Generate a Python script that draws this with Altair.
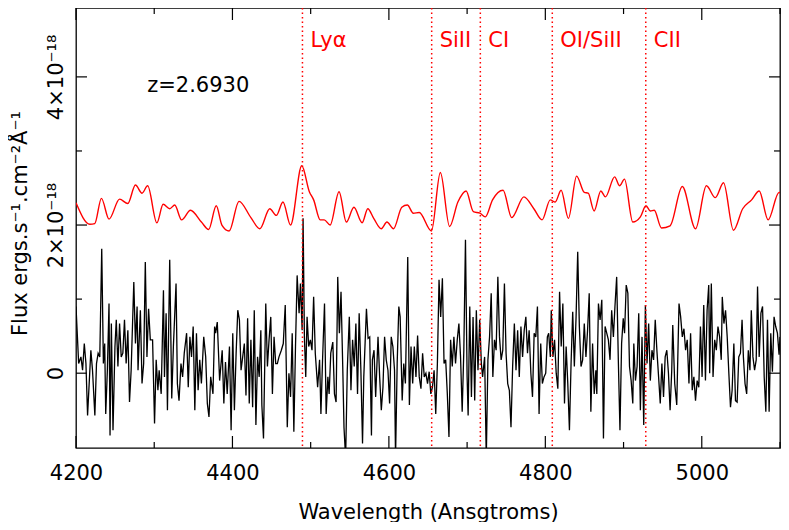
import altair as alt
import pandas as pd

# ---------------- data (flux in units of 1e-18 erg/s/cm2/A) ----------------
black_wl = [
    4200.0, 4203.4, 4206.3, 4208.4, 4210.6, 4212.7, 4214.8, 4219.0, 4221.1, 4224.1,
    4226.2, 4228.3, 4230.4, 4232.9, 4235.0, 4236.7, 4238.0, 4240.1, 4242.2, 4243.5,
    4245.2, 4247.3, 4249.8, 4251.5, 4253.6, 4255.7, 4257.8, 4259.9, 4262.0, 4264.1,
    4266.3, 4268.4, 4270.5, 4273.9, 4276.0, 4278.1, 4279.3, 4282.3, 4284.4, 4286.5,
    4288.6, 4290.7, 4292.8, 4295.0, 4297.9, 4300.4, 4302.5, 4304.7, 4306.3, 4308.9,
    4311.8, 4313.1, 4315.2, 4316.9, 4319.8, 4322.4, 4324.5, 4327.9, 4329.6, 4331.7,
    4334.2, 4336.3, 4338.4, 4341.4, 4343.5, 4345.6, 4347.7, 4349.8,
    4351.9, 4354.0, 4356.1, 4358.2, 4360.3, 4363.3, 4365.8, 4367.9, 4370.0, 4372.2,
    4375.1, 4377.2, 4378.5, 4380.6, 4383.6, 4386.9, 4389.0, 4391.1, 4393.3, 4396.2,
    4398.3, 4400.4, 4402.5, 4404.7, 4406.8, 4408.9, 4411.0, 4413.1, 4415.2, 4417.3,
    4419.4, 4421.5, 4423.6, 4425.8, 4427.9, 4430.0, 4432.1, 4434.2, 4436.3, 4437.6,
    4439.7, 4442.6, 4444.7, 4446.8, 4449.0, 4451.1, 4453.2, 4455.3, 4457.4, 4459.5,
    4462.5, 4465.0, 4467.5, 4470.1, 4472.2, 4474.3, 4476.4, 4478.5, 4480.6, 4482.7,
    4485.2, 4486.9, 4489.1, 4490.3, 4492.0, 4493.7, 4495.4, 4497.5, 4499.6, 4501.7,
    4503.8, 4505.9, 4508.9, 4511.4, 4513.1, 4515.2, 4517.7, 4519.8, 4522.0, 4523.6,
    4525.7, 4528.3, 4530.4, 4532.5, 4534.6, 4536.7, 4538.8, 4541.0, 4542.6, 4544.7,
    4546.8, 4549.4, 4551.5, 4553.6, 4555.7, 4557.8, 4559.9, 4562.0, 4564.2, 4566.3,
    4567.9, 4571.3, 4573.4, 4575.5, 4577.7, 4578.9, 4581.0, 4583.1, 4586.1, 4588.2,
    4590.3, 4592.4, 4594.5, 4596.6, 4598.8, 4600.9, 4603.0, 4605.1, 4607.2, 4608.5,
    4610.6, 4612.7, 4614.4, 4617.0, 4619.0, 4621.1, 4624.1, 4626.2, 4628.3, 4630.4,
    4632.5, 4634.6, 4636.7, 4638.8, 4641.0, 4643.1, 4645.2, 4647.3, 4649.4, 4651.5,
    4653.6,
    4655.7, 4657.8, 4659.9, 4662.0, 4664.1, 4666.2, 4668.4, 4670.5, 4672.6, 4674.7,
    4676.8, 4678.9, 4681.0, 4683.1, 4685.2, 4687.4, 4689.5, 4691.6, 4693.7, 4695.8,
    4697.9, 4700.0, 4701.3, 4703.4, 4705.5, 4707.6, 4709.7, 4711.8, 4713.9, 4716.1,
    4718.2, 4719.8, 4722.4, 4724.5, 4726.6, 4728.7, 4730.8, 4732.9, 4735.0, 4737.1,
    4739.3, 4741.4, 4743.5, 4745.6, 4747.7, 4749.8, 4751.9, 4754.0, 4756.1, 4758.2,
    4760.4, 4762.5, 4764.6, 4766.7, 4768.8, 4770.9, 4773.0, 4775.1, 4777.2, 4779.3,
    4781.5, 4783.6, 4785.7, 4787.8, 4789.9, 4792.0, 4794.1, 4796.2, 4798.3, 4800.5,
    4802.6, 4804.3, 4806.4,
    4807.6, 4809.7, 4811.8, 4813.9, 4816.0, 4818.2, 4820.3, 4822.4, 4824.5, 4826.6,
    4828.7, 4830.8, 4832.9, 4835.0, 4837.1, 4839.3, 4841.4, 4843.5, 4845.6, 4847.7,
    4849.8, 4851.9, 4854.0, 4856.1, 4858.2, 4860.4, 4862.5, 4864.6, 4865.8, 4867.9,
    4870.0, 4872.2, 4874.3, 4876.4, 4878.5, 4880.6, 4882.7, 4884.8, 4887.0, 4889.0,
    4891.2, 4893.3, 4895.4, 4897.5, 4899.6, 4901.3, 4903.4, 4905.5, 4907.6, 4909.7,
    4911.8, 4913.1, 4915.2, 4917.3, 4919.4, 4921.5, 4923.6, 4925.8, 4927.9, 4930.0,
    4932.1, 4934.2, 4936.3, 4938.4, 4940.5, 4942.6, 4944.8, 4946.9, 4949.0, 4951.1,
    4953.2, 4955.3, 4957.4,
    4959.5, 4961.6, 4962.9, 4965.4, 4968.0, 4970.9, 4973.0, 4975.1, 4977.2, 4979.3,
    4981.4, 4983.6, 4985.7, 4987.8, 4989.9, 4992.0, 4994.1, 4996.2, 4998.3, 5000.4,
    5002.5, 5004.7, 5006.8, 5008.9, 5010.1, 5012.2, 5014.4, 5016.5, 5018.6, 5020.7,
    5022.8, 5024.9, 5026.2, 5028.3, 5030.4, 5032.5, 5034.6, 5036.7, 5038.8, 5041.0,
    5043.1, 5045.2, 5047.3, 5049.4, 5051.5, 5053.2, 5055.3, 5057.4, 5059.5, 5061.6,
    5063.3, 5065.4, 5067.5, 5069.6, 5071.3, 5073.4, 5075.6, 5077.7, 5079.8, 5081.9,
    5084.0, 5086.1, 5088.2, 5090.3, 5092.4, 5094.5, 5096.7, 5098.8, 5100.0,
]
black_flux = [
    0.90, 0.13, 0.22, 0.04, 0.40, 0.13, -0.57, 0.31, 0.04, -0.57,
    0.13, 0.27, 0.22, 1.68, 0.13, 0.40, -0.55, 0.04, 0.94, -0.84,
    0.67, -0.77, 0.36, 0.72, 0.09, 0.67, 0.22, 0.27, 0.72, 0.13,
    0.58, -0.39, 0.04, 1.23, 0.40, 0.90, 0.04, 0.85, -0.14, 0.13,
    1.50, 0.22, 0.87, 0.45, 0.45, -0.68, 0.18, -0.23, 0.04, -0.28,
    1.12, -0.05, 0.81, -0.50, 1.53, -0.34, 0.36, 1.21, -0.14, -0.37,
    0.13, -0.05, 0.27, 0.54, -0.19, 0.49, 0.22, 0.63,
    -0.50, 0.54, -0.23, 0.18, -0.14, 0.49, 0.22, -0.41, -0.59, -0.05,
    -0.28, 0.63, 0.54, 0.69, -0.10, 0.31, -0.41, 0.15, -0.28, 0.36,
    -0.77, 0.54, -0.50, 0.27, 0.85, 0.72, 0.04, 0.22, 0.40, -0.30,
    0.74, -0.41, 0.45, -0.46, 0.85, -0.70, 0.22, -0.05, 0.58, -0.43,
    -0.88, 0.94, 0.09, 0.45, 0.76, -0.28, 0.49, 0.13, 0.13, 0.22,
    0.31, 0.40, 0.92, -0.73, 0.00, -0.32, 0.54, -0.79, 0.36, 1.32,
    0.81, 1.21, 0.58, 2.09, 0.49, -0.05, 0.76, 0.36, 0.45, 0.31,
    1.03, 0.27, -0.19, 0.18, -0.55, 0.18, 0.94, -0.55, -0.05, -0.28,
    0.27, 0.42, -0.28, -0.39, 1.30, 0.54, 1.10, 0.09, -0.73, -1.15,
    0.04, 0.76, -0.23, 0.45, 0.09, 0.67, -0.28, 0.81, 0.04, -0.95,
    -0.05, 0.87, 0.47, 0.49, -0.84, 0.18, 0.31, -0.32, 0.49, -0.05,
    -0.50, -0.19, 0.49, 0.18, 0.04, -0.41, 0.49, 0.36, 0.04, -1.15,
    0.13, 0.90, 0.76, -0.37, 0.13, -0.14, 1.57, -0.43, 0.36, -0.14,
    0.36, -0.05, 0.51, -0.05, -0.21, 0.27, -0.05, 0.00, -0.14, 0.02,
    -0.28,
    -0.19, 0.04, -0.55, 0.13, 1.26, 0.76, 1.28, 0.13, 0.18, -0.28,
    -0.86, 0.45, 0.09, 0.49, 0.13, 0.45, 0.67, 0.22, -0.52, 0.31,
    1.80, -0.05, -0.57, 0.90, -0.32, 0.76, -0.37, 0.85, 0.04, 0.72,
    0.13, -0.05, 0.22, -1.15, 0.18, 0.49, 1.08, -0.05, 0.45, 0.31,
    1.30, 0.49, 0.18, 0.31, 1.21, 0.27, -0.14, -0.23, -0.73, 0.09,
    0.67, 0.04, 0.58, -0.05, 0.63, 0.22, 0.58, 0.76, 0.27, 0.58,
    0.00, -0.32, 0.54, 0.49, 0.90, -0.55, 0.40, -0.14, -0.05, 0.00,
    0.49, 0.54, 0.22,
    0.85, 0.22, 0.45, 0.00, -0.21, 1.10, 0.36, 0.94, -0.41, 0.36,
    -0.14, -0.77, 0.13, 0.83, 0.09, 0.76, 1.64, 0.63, 0.09, 0.18,
    0.67, 0.22, 0.58, 1.08, -0.52, 0.40, -0.28, 0.04, -0.28, 0.94,
    0.72, 0.99, -0.88, 0.63, 0.54, 0.45, 0.18, 0.85, 0.49, 0.90,
    1.30, 0.18, -0.77, 0.40, 0.74, 0.54, 1.19, 1.08, 0.09, -0.10,
    -0.41, 0.40, -0.10, 0.09, 0.81, -0.50, 0.49, -0.70, 0.92, 0.13,
    0.67, -0.10, 0.31, 0.18, 0.72, 0.31, -0.05, -0.41, 0.13, -0.32,
    0.22, 0.31, 0.00,
    -0.50, 0.04, 0.65, -0.14, -0.43, 0.94, 0.76, 0.49, 0.60, 0.31,
    0.45, -0.14, 0.54, -0.23, -0.05, -0.37, -0.10, -0.19, 0.63, -0.05,
    0.92, -0.10, 0.85, 1.19, 0.00, 1.21, -0.05, 0.45, 0.31, 0.63,
    0.49, 0.18, 1.03, 0.67, 0.85, 0.49, 0.00, -0.46, -0.23, 0.40,
    -0.37, -0.39, 0.22, 0.27, 0.72, 0.22, -0.14, -0.28, 0.31, 0.04,
    0.85, 0.22, 0.04, 0.18, 1.17, 0.22, 0.81, 0.90, -0.05, -0.52,
    0.72, -0.52, 0.54, 0.02, 0.76, 0.63, 0.54, 0.25, 0.49,
]
smooth_wl = [
    4200.0, 4217.7, 4224.0, 4232.5, 4242.2, 4255.7, 4266.2, 4276.0, 4284.4, 4291.6,
    4303.4, 4311.4, 4319.8, 4326.2, 4335.0, 4346.4, 4360.3, 4369.6, 4379.3, 4386.5,
    4395.8, 4408.4, 4423.6, 4435.0, 4447.7, 4456.1, 4464.6, 4474.3, 4488.6, 4498.3,
    4503.8, 4512.2, 4517.3, 4524.9, 4536.3, 4545.6, 4555.3, 4565.8, 4573.0, 4580.6,
    4590.3, 4597.5, 4605.9, 4616.5, 4623.6, 4631.2, 4638.8, 4654.4, 4665.8, 4677.6,
    4688.2, 4698.7, 4708.0, 4716.5, 4723.2, 4732.5, 4746.0, 4757.0, 4772.6, 4785.3,
    4795.8, 4806.3, 4812.6, 4820.2, 4829.5, 4840.0, 4849.8, 4854.8, 4862.4, 4870.9,
    4876.8, 4888.6, 4894.9, 4901.2, 4911.8, 4921.5, 4928.7, 4934.2, 4939.2, 4948.5,
    4959.5, 4975.1, 4992.0, 5005.9, 5017.3, 5027.8, 5040.5, 5052.3, 5063.7, 5073.4,
    5084.8, 5098.7, 5100.0,
]
smooth_flux = [
    2.30, 2.01, 2.02, 2.36, 2.08, 2.35, 2.29, 2.54, 2.43, 2.53,
    2.03, 2.28, 2.22, 2.27, 2.07, 2.20, 2.04, 1.94, 2.26, 2.00,
    1.92, 2.32, 2.10, 1.95, 2.22, 2.13, 2.31, 2.00, 2.80, 2.45,
    2.34, 2.07, 2.07, 2.00, 2.45, 2.04, 2.24, 2.03, 2.22, 2.09,
    1.95, 2.04, 1.95, 2.24, 2.27, 2.16, 2.17, 1.92, 2.71, 1.98,
    2.31, 2.46, 2.18, 2.16, 2.11, 2.34, 2.47, 2.10, 2.38, 2.22,
    2.07, 2.34, 2.31, 2.47, 2.09, 2.66, 2.44, 2.43, 2.19, 2.46,
    2.38, 2.65, 2.53, 2.62, 2.04, 2.11, 2.26, 2.19, 2.20, 1.96,
    1.99, 2.52, 1.95, 2.53, 2.37, 2.57, 1.93, 2.22, 2.34, 2.46,
    2.07, 2.44, 2.44,
]
line_names = ["Lyα", "SiII", "CI", "OI/SiII", "CII"]
line_wl = [4489.5, 4654.7, 4716.9, 4808.9, 4928.4]
redshift_label = ["z=2.6930"]
x_major = [4200, 4400, 4600, 4800, 5000]
x_minor = [4300, 4500, 4700, 4900, 5100]
y_major = [0, 2, 4]
y_minor = [1, 3]

assert len(black_wl) == len(black_flux), (len(black_wl), len(black_flux))
assert len(smooth_wl) == len(smooth_flux)

# ---------------- layout ----------------
X_MIN, X_MAX = 4200, 5100
Y_MIN, Y_MAX = -1.01, 4.93
W, H = 704, 440
FONT = "DejaVu Sans"
FS = 21
RED = "#ff0000"
ppx = W / (X_MAX - X_MIN)
ppy = H / (Y_MAX - Y_MIN)

xs = alt.Scale(domain=[X_MIN, X_MAX], nice=False, zero=False)
ys = alt.Scale(domain=[Y_MIN, Y_MAX], nice=False, zero=False)

black_df = pd.DataFrame({"wl": black_wl, "flux": black_flux})
red_df = pd.DataFrame({"wl": smooth_wl, "flux": smooth_flux})
lines_df = pd.DataFrame({"wl": line_wl, "name": line_names})
z_df = pd.DataFrame({"t": redshift_label})

# inward ticks on all four sides, built through the scales
rows = []
for v, L in [(v, 12) for v in x_major] + [(v, 6) for v in x_minor]:
    rows.append({"x": v, "x2": v, "y": Y_MIN, "y2": Y_MIN + L / ppy})
    rows.append({"x": v, "x2": v, "y": Y_MAX, "y2": Y_MAX - L / ppy})
for v, L in [(v, 11) for v in y_major] + [(v, 6) for v in y_minor]:
    rows.append({"x": X_MIN, "x2": X_MIN + L / ppx, "y": v, "y2": v})
    rows.append({"x": X_MAX, "x2": X_MAX - L / ppx, "y": v, "y2": v})
ticks_df = pd.DataFrame(rows)

x_axis = alt.Axis(
    values=x_major, format="d", tickSize=0, domain=False, grid=False,
    labelFont=FONT, labelFontSize=FS, labelColor="black", labelPadding=14,
    labelFlush=False,
    title="Wavelength (Ansgtroms)", titleFont=FONT, titleFontSize=FS,
    titleFontWeight="normal", titleColor="black", titleY=70,
    titleBaseline="alphabetic",
)
y_axis = alt.Axis(
    values=y_major, tickSize=0, domain=False, grid=False,
    labelAngle=270, labelAlign="center", labelBaseline="alphabetic",
    labelPadding=14, labelFont=FONT, labelFontSize=FS, labelColor="black",
    labelOverlap=False, labelFlush=False,
    labelExpr="datum.value == 0 ? '0' : datum.value + '×10⁻¹⁸'",
    title="Flux ergs.s⁻¹.cm⁻²Å⁻¹", titleFont=FONT, titleFontSize=FS,
    titleFontWeight="normal", titleColor="black", titleAngle=270,
    titleX=-50, titleY=215, titleAlign="center", titleBaseline="alphabetic",
)

black = alt.Chart(black_df).mark_line(color="black", strokeWidth=1.3, clip=True).encode(
    x=alt.X("wl:Q", scale=xs, axis=x_axis),
    y=alt.Y("flux:Q", scale=ys, axis=y_axis),
    order="wl:Q",
)
red = alt.Chart(red_df).mark_line(color=RED, strokeWidth=1.4, interpolate="monotone", clip=True).encode(
    x=alt.X("wl:Q", scale=xs),
    y=alt.Y("flux:Q", scale=ys),
)
vlines = alt.Chart(lines_df).mark_rule(color=RED, strokeWidth=1.5, strokeDash=[1.5, 3]).encode(
    x=alt.X("wl:Q", scale=xs),
)
vlabels = alt.Chart(lines_df).mark_text(
    color=RED, font=FONT, fontSize=FS, align="left", baseline="alphabetic", dx=8
).encode(
    x=alt.X("wl:Q", scale=xs),
    y=alt.datum(4.41, scale=ys),
    text="name:N",
)
ztext = alt.Chart(z_df).mark_text(
    color="black", font=FONT, fontSize=FS, align="left", baseline="alphabetic"
).encode(
    x=alt.datum(4291, scale=xs),
    y=alt.datum(3.80, scale=ys),
    text="t:N",
)
ticks = alt.Chart(ticks_df).mark_rule(color="black", strokeWidth=1.2).encode(
    x=alt.X("x:Q", scale=xs), x2="x2:Q",
    y=alt.Y("y:Q", scale=ys), y2="y2:Q",
)

chart = (
    alt.layer(black, red, vlines, vlabels, ztext, ticks)
    .properties(
        width=W, height=H,
        autosize=alt.AutoSizeParams(type="none"),
        padding={"left": 68, "top": 0, "right": 1, "bottom": 74},
        background="white",
    )
    .configure_view(stroke="black", strokeWidth=1.3)
)

chart.save("out.html", embed_options={"renderer": "svg", "actions": False})
